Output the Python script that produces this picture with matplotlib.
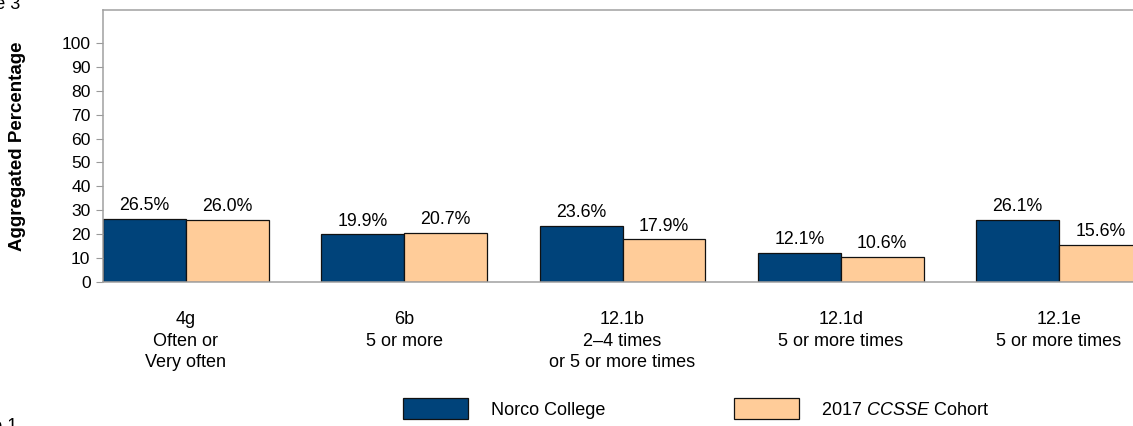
import matplotlib
matplotlib.use("Agg")
import matplotlib.pyplot as plt
import numpy as np

plt.rcParams['font.family'] = ['Liberation Sans', 'DejaVu Sans']
plt.rcParams['mathtext.fontset'] = 'custom'
plt.rcParams['mathtext.rm'] = 'Liberation Sans'
plt.rcParams['mathtext.it'] = 'Liberation Sans:italic'

categories = ["4g\nOften or\nVery often", "6b\n5 or more", "12.1b\n2\u20134 times\nor 5 or more times",
              "12.1d\n5 or more times", "12.1e\n5 or more times"]
norco = [26.5, 19.9, 23.6, 12.1, 26.1]
cohort = [26.0, 20.7, 17.9, 10.6, 15.6]
series_names = ["Norco College", "2017 $\\mathit{CCSSE}$ Cohort"]
yticks = list(range(0, 101, 10))

W, H = 1133, 426
fig = plt.figure(figsize=(W / 100, H / 100), dpi=100)
left, right, top, bottom = 103, 1142, 10, 282
ax = fig.add_axes([left / W, 1 - bottom / H, (right - left) / W, (bottom - top) / H])

x = np.arange(len(categories))
bw = 0.38
blue = '#00437A'
orange = '#FFCC99'
b1 = ax.bar(x - bw / 2, norco, bw, color=blue, edgecolor='#111111', linewidth=0.9, label=series_names[0])
b2 = ax.bar(x + bw / 2, cohort, bw, color=orange, edgecolor='#111111', linewidth=0.9, label=series_names[1])

for bars, vals in ((b1, norco), (b2, cohort)):
    for r, v in zip(bars, vals):
        ax.annotate(f"{v:.1f}%", (r.get_x() + r.get_width() / 2, v), xytext=(0, 6.2),
                    textcoords='offset points', ha='center', va='baseline', fontsize=12.8)

ax.set_xlim(-0.38, len(categories) - 1 + 0.38)
ax.set_ylim(0, 113.8)
ax.set_yticks(yticks)
ax.set_yticklabels([str(t) for t in yticks], fontsize=12.6)
ax.set_xticks(x)
ax.set_xticklabels(categories, fontsize=13, linespacing=1.35)
ax.tick_params(axis='x', length=0, pad=21)
ax.tick_params(axis='y', length=5, width=0.8, color='#999999', pad=4)

for s in ['top', 'left', 'bottom']:
    ax.spines[s].set_color('#A0A0A0')
    ax.spines[s].set_linewidth(1.1)
ax.spines['right'].set_visible(False)

ax.set_ylabel("Aggregated Percentage", fontsize=13.5, fontweight='bold')
ax.yaxis.set_label_coords(26 / W, 1 - 146 / H, transform=fig.transFigure)

fig.legend(handles=[b1, b2], labels=series_names, loc='center left',
           bbox_to_anchor=(403 / W, 1 - 408.5 / H), ncol=2, frameon=False,
           fontsize=13, handlelength=3.6, handleheight=1.38, handletextpad=1.27,
           columnspacing=7.1, borderpad=0, borderaxespad=0)

fig.text(20 / W, 1 - 9 / H, "Figure 3", ha='right', va='baseline', fontsize=13)
fig.text(17 / W, 1 - 418 / H, "Figure 1", ha='right', va='top', fontsize=13)

fig.savefig("out.png", dpi=100)
